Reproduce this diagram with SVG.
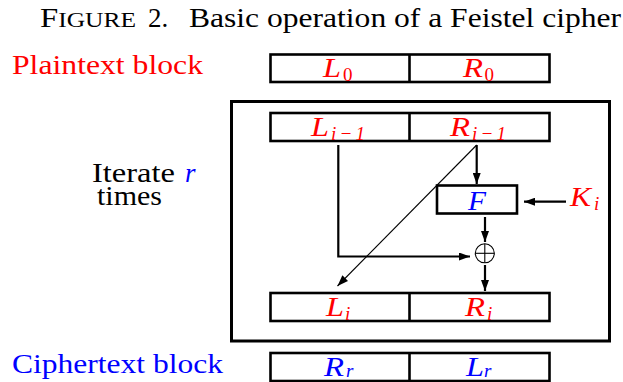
<svg xmlns="http://www.w3.org/2000/svg" width="623" height="382" viewBox="0 0 623 382" font-family="'Liberation Serif', 'Times New Roman', serif">
<style>
.box{fill:#fff;stroke:#000;stroke-width:2.6}
.div{stroke:#000;stroke-width:2.6}
.t{font-family:'Liberation Serif','Times New Roman',serif;font-size:27px}
.m{font-family:'Liberation Serif','Times New Roman',serif;font-style:italic;font-size:27px}
.s{font-family:'Liberation Serif','Times New Roman',serif;font-size:19px}
.si{font-family:'Liberation Serif','Times New Roman',serif;font-size:19px;font-style:italic}
.red{fill:#ff0000}
.blue{fill:#0000ff}
.c{stroke:#000;stroke-width:2.2;fill:none}
.thin{stroke:#000;stroke-width:1.1;fill:none}
</style>
<defs>
<marker id="ah" markerUnits="userSpaceOnUse" markerWidth="11" markerHeight="8" refX="11" refY="4" orient="auto">
<path d="M0,0 L11,4 L0,8 z" fill="#000"/>
</marker>
</defs>
<g id="title">
<text class="t" x="40" y="27" textLength="96" lengthAdjust="spacingAndGlyphs"><tspan>F</tspan><tspan font-size="21">IGURE</tspan></text>
<text class="t" x="148" y="27">2.</text>
<text class="t" x="189" y="27" textLength="432" lengthAdjust="spacingAndGlyphs">Basic operation of a Feistel cipher</text>
</g>
<g id="side-labels">
<text class="t red" x="12" y="73.5" textLength="191" lengthAdjust="spacingAndGlyphs">Plaintext block</text>
<text class="t"><tspan x="92" y="181.5" textLength="83" lengthAdjust="spacingAndGlyphs">Iterate</tspan><tspan class="blue" x="185" y="181.5" font-style="italic">r</tspan><tspan x="97" y="205" textLength="65" lengthAdjust="spacingAndGlyphs">times</tspan></text>
<text class="t blue" x="12" y="372.5" textLength="211" lengthAdjust="spacingAndGlyphs">Ciphertext block</text>
</g>
<g id="outer">
<rect x="231.5" y="101.5" width="378" height="239.5" fill="none" stroke="#000" stroke-width="3"/>
</g>
<g id="plain">
<rect class="box" x="270.5" y="54.5" width="279" height="27.5"/>
<line class="div" x1="409.5" y1="54.5" x2="409.5" y2="82"/>
<text class="m red" x="323" y="77" textLength="18" lengthAdjust="spacingAndGlyphs">L</text>
<text class="s red" x="343" y="80.5">0</text>
<text class="m red" x="463" y="77" textLength="20" lengthAdjust="spacingAndGlyphs">R</text>
<text class="s red" x="484.5" y="80.5">0</text>
</g>
<g id="prev">
<rect class="box" x="270.5" y="113" width="279" height="28"/>
<line class="div" x1="409.5" y1="113" x2="409.5" y2="141"/>
<text class="m red" x="311" y="136" textLength="18" lengthAdjust="spacingAndGlyphs">L</text>
<text class="si red" x="331" y="139.5" textLength="34" lengthAdjust="spacing">i−1</text>
<text class="m red" x="450" y="136" textLength="20" lengthAdjust="spacingAndGlyphs">R</text>
<text class="si red" x="472" y="139.5" textLength="34" lengthAdjust="spacing">i−1</text>
</g>
<g id="F">
<rect class="box" x="437" y="185.5" width="80" height="28"/>
<text class="m blue" x="468" y="210" textLength="18" lengthAdjust="spacingAndGlyphs">F</text>
</g>
<g id="K">
<text class="m red" x="570" y="206" textLength="21" lengthAdjust="spacingAndGlyphs">K</text>
<text class="si red" x="594" y="209.5">i</text>
</g>
<g id="xor">
<circle cx="484.8" cy="253.3" r="9.5" fill="none" stroke="#000" stroke-width="1.1"/>
<line x1="475.3" y1="253.3" x2="494.3" y2="253.3" stroke="#000" stroke-width="1.1"/>
<line x1="484.8" y1="243.8" x2="484.8" y2="262.8" stroke="#000" stroke-width="1.1"/>
</g>
<g id="next">
<rect class="box" x="270.5" y="293" width="279" height="28"/>
<line class="div" x1="409.5" y1="293" x2="409.5" y2="321"/>
<text class="m red" x="326" y="316" textLength="18" lengthAdjust="spacingAndGlyphs">L</text>
<text class="si red" x="345" y="319.5">i</text>
<text class="m red" x="465" y="316" textLength="20" lengthAdjust="spacingAndGlyphs">R</text>
<text class="si red" x="487" y="319.5">i</text>
</g>
<g id="cipher">
<rect class="box" x="270.5" y="353" width="279" height="28"/>
<line class="div" x1="409.5" y1="353" x2="409.5" y2="381"/>
<text class="m blue" x="324" y="375.5" textLength="20" lengthAdjust="spacingAndGlyphs">R</text>
<text class="si blue" x="346" y="377">r</text>
<text class="m blue" x="466" y="375.5" textLength="18" lengthAdjust="spacingAndGlyphs">L</text>
<text class="si blue" x="484" y="377">r</text>
</g>
<g id="connectors">
<path class="c" d="M338.3,145 V256.5 H470" marker-end="url(#ah)"/>
<line class="c" x1="476.7" y1="145" x2="476.7" y2="184" marker-end="url(#ah)"/>
<line class="c" x1="566" y1="201.7" x2="524" y2="201.7" marker-end="url(#ah)"/>
<line class="c" x1="485" y1="217" x2="485" y2="242" marker-end="url(#ah)"/>
<line class="c" x1="485" y1="265" x2="485" y2="291" marker-end="url(#ah)"/>
<line class="thin" x1="476.7" y1="145" x2="337.5" y2="286" marker-end="url(#ah)"/>
</g>
</svg>
